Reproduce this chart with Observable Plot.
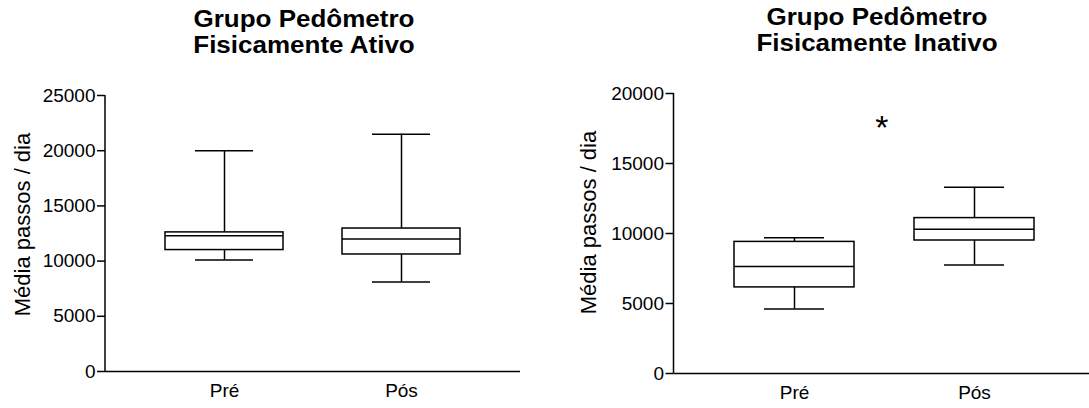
<!DOCTYPE html>
<html>
<head>
<meta charset="utf-8">
<script src="https://cdn.jsdelivr.net/npm/d3@7"></script>
<script src="https://cdn.jsdelivr.net/npm/@observablehq/plot@0.6"></script>
<style>
  html, body { margin: 0; padding: 0; background: #fff; }
  body { width: 1089px; height: 408px; position: relative; overflow: hidden;
         font-family: "Liberation Sans", Arial, sans-serif; }
  .title { position: absolute; text-align: center; font-weight: bold; font-size: 23px;
           line-height: 26px; color: #000; white-space: nowrap;
           transform: scaleX(1.13); transform-origin: 50% 50%; }
  .panel { position: absolute; top: 62px; }
</style>
</head>
<body>
<div class="title" id="title0" style="left:104px; top:6px; width:400px;"></div>
<div class="title" id="title1" style="left:677px; top:4px; width:400px;"></div>
<div class="panel" id="panel0" style="left:0px;"></div>
<div class="panel" id="panel1" style="left:560px;"></div>
<script>
// ---- data ----
const categories = ["Pré", "Pós"];
const titles = [["Grupo Pedômetro", "Fisicamente Ativo"], ["Grupo Pedômetro", "Fisicamente Inativo"]];
const yLabel = "Média passos / dia";

// Fisicamente Ativo
const ativoMin = [10100, 8100];
const ativoQ1  = [11000, 10600];
const ativoMed = [12300, 12000];
const ativoQ3  = [12600, 12950];
const ativoMax = [20000, 21500];
const ativoTicks = [0, 5000, 10000, 15000, 20000, 25000];

// Fisicamente Inativo
const inativoMin = [4600, 7750];
const inativoQ1  = [6150, 9500];
const inativoMed = [7650, 10300];
const inativoQ3  = [9400, 11100];
const inativoMax = [9700, 13300];
const inativoTicks = [0, 5000, 10000, 15000, 20000];

// significance marker (Inativo panel)
const sigLabel = "*";
const sigY = 17550;

// ---- drawing ----
function rowsOf(min, q1, med, q3, max) {
  return categories.map((c, i) => ({cat: c, min: min[i], q1: q1[i], med: med[i], q3: q3[i], max: max[i]}));
}

function yAxisLine(yMax) {
  return (index, scales, values, dim) => {
    const ns = "http://www.w3.org/2000/svg";
    const l = document.createElementNS(ns, "line");
    l.setAttribute("x1", dim.marginLeft);
    l.setAttribute("x2", dim.marginLeft);
    l.setAttribute("y1", scales.y(0));
    l.setAttribute("y2", scales.y(yMax));
    l.setAttribute("stroke", "black");
    l.setAttribute("stroke-width", 1.5);
    return l;
  };
}

function panel(o) {
  const rows = rowsOf(o.min, o.q1, o.med, o.q3, o.max);
  const sw = 1.5;
  const xOpts = {domain: categories, padding: 1 / 3};
  if (o.xRange) xOpts.range = o.xRange;
  const marks = [
    Plot.ruleX(rows, {x: "cat", y1: "min", y2: "q1", stroke: "black", strokeWidth: sw}),
    Plot.ruleX(rows, {x: "cat", y1: "q3", y2: "max", stroke: "black", strokeWidth: sw}),
    Plot.rectY(rows, {x: "cat", y1: "q1", y2: "q3", fill: "white", stroke: "black", strokeWidth: sw, inset: 0}),
    Plot.tickY(rows, {x: "cat", y: "med", stroke: "black", strokeWidth: sw}),
    Plot.tickY(rows, {x: "cat", y: "min", stroke: "black", strokeWidth: sw, insetLeft: 30, insetRight: 30}),
    Plot.tickY(rows, {x: "cat", y: "max", stroke: "black", strokeWidth: sw, insetLeft: 30, insetRight: 30}),
    Plot.ruleY([0], {stroke: "black", strokeWidth: sw}),
    yAxisLine(o.yMax),
    Plot.axisY({ticks: o.ticks, tickFormat: "d", tickSize: 8, tickPadding: 2, fontSize: 19,
                label: null, stroke: "black", strokeWidth: sw}),
    Plot.axisX({tickSize: 0, tickPadding: 12, fontSize: 19, label: null}),
    Plot.text([yLabel], {frameAnchor: "left", textAnchor: "middle", lineAnchor: "middle",
                         rotate: -90, dx: o.labelDx, dy: o.labelDy, fontSize: 22, fill: "black"})
  ];
  if (o.sig) {
    marks.push(Plot.text([{label: sigLabel, y: sigY}], {y: "y", text: "label", fontSize: 34, fill: "black"}));
  }
  return Plot.plot({
    width: o.width,
    height: 346,
    marginLeft: o.marginLeft,
    marginRight: o.marginRight,
    marginTop: o.marginTop,
    marginBottom: o.marginBottom,
    x: xOpts,
    y: {domain: [0, o.yMax]},
    style: {fontFamily: "'Liberation Sans', Arial, sans-serif", color: "black", background: "transparent", overflow: "visible"},
    marks
  });
}

titles.forEach((t, i) => {
  const el = document.getElementById("title" + i);
  t.forEach((line, j) => {
    if (j) el.appendChild(document.createElement("br"));
    el.appendChild(document.createTextNode(line));
  });
});

document.getElementById("panel0").appendChild(panel({
  min: ativoMin, q1: ativoQ1, med: ativoMed, q3: ativoQ3, max: ativoMax,
  ticks: ativoTicks, yMax: 25000,
  width: 540, marginLeft: 105, marginRight: 20, marginTop: 33, marginBottom: 37,
  labelDx: -82.5, labelDy: -9
}));

document.getElementById("panel1").appendChild(panel({
  min: inativoMin, q1: inativoQ1, med: inativoMed, q3: inativoQ3, max: inativoMax,
  ticks: inativoTicks, yMax: 20000,
  width: 529, marginLeft: 113.5, marginRight: 0, marginTop: 31, marginBottom: 35,
  xRange: [113.5, 535],
  labelDx: -85.5, labelDy: -11, sig: true
}));
</script>
</body>
</html>
